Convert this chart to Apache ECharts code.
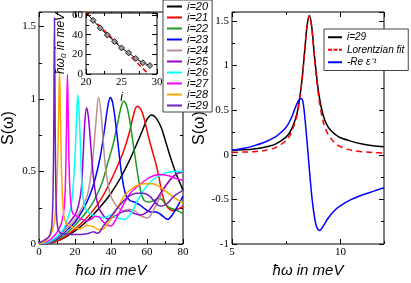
<!DOCTYPE html>
<html><head><meta charset="utf-8">
<script src="https://cdn.jsdelivr.net/npm/echarts@6/dist/echarts.min.js"></script>
<style>html,body{margin:0;padding:0;background:#fff}#c{width:411px;height:283px}</style>
</head><body><div id="c"></div>
<script>
// ---------- data: left panel S(omega) for i=20..29 ----------
const names = ['i=20','i=21','i=22','i=23','i=24','i=25','i=26','i=27','i=28','i=29'];
const x20 = [0,5,10,15,20,25,30,35,40,45,50,55,58,60,62.5,65,68,70.5,73,76,78,80];
const y20 = [0,0.003,0.02,0.05,0.09,0.14,0.2,0.27,0.35,0.45,0.57,0.71,0.8,0.86,0.89,0.87,0.8,0.7,0.6,0.49,0.43,0.37];
const x21 = [0,5,10,15,20,25,30,35,40,44,47,50,52.5,54.5,56.5,58.5,61,63,65,66.5,68,69.5,71,73,75,77,80];
const y21 = [0,0.004,0.02,0.055,0.105,0.16,0.23,0.32,0.44,0.55,0.64,0.76,0.89,0.95,0.93,0.86,0.73,0.64,0.55,0.47,0.37,0.3,0.26,0.235,0.23,0.24,0.26];
const x22 = [0,5,10,15,20,25,30,35,38,41,43.5,45.5,47,48.5,50,52,54,55.5,57,58.5,61,64,66,68,70,72.5,76,80];
const y22 = [0,0.005,0.03,0.07,0.13,0.2,0.285,0.42,0.55,0.68,0.82,0.94,0.985,0.96,0.88,0.72,0.55,0.43,0.34,0.3,0.29,0.3,0.315,0.31,0.28,0.25,0.235,0.21];
const x23 = [0,5,10,15,20,25,28,31,34,36.5,38,39.6,41,42.5,44,45.5,47,48.5,50.5,53,56,59,62,65,68,71.5,74,77,80];
const y23 = [0,0.006,0.035,0.09,0.15,0.25,0.33,0.44,0.6,0.8,0.93,1.01,0.97,0.84,0.68,0.52,0.4,0.33,0.3,0.29,0.27,0.24,0.22,0.22,0.2,0.17,0.2,0.26,0.33];
const x24 = [0,5,10,15,20,23,26.7,28.5,30,31.5,33.1,34.5,35.6,37,38.5,40,42,44,47,50,53,56,58.5,60.5,63,66,69,72,75,78,80];
const y24 = [0,0.008,0.04,0.1,0.17,0.23,0.33,0.45,0.6,0.82,1.01,0.9,0.72,0.52,0.4,0.33,0.28,0.25,0.23,0.24,0.23,0.2,0.185,0.18,0.22,0.29,0.37,0.43,0.47,0.49,0.49];
const x25 = [0,5,10,15,20,22,23.5,24.5,25.5,26.5,27.5,28.5,29.5,30.5,31.5,33,35,38,42,46,50,53,56,60,64,68,72,76,80];
const y25 = [0.002,0.01,0.045,0.12,0.2,0.27,0.38,0.6,0.85,0.94,0.87,0.72,0.56,0.43,0.34,0.26,0.21,0.175,0.19,0.22,0.23,0.21,0.2,0.22,0.28,0.36,0.43,0.48,0.5];
const x26 = [0,5,10,14,16,17.8,19,20,20.8,21.6,22.3,23,23.7,24.5,26,28.4,32,36,40,44,47.5,51,54.4,58,63,68.5,74,80];
const y26 = [0.002,0.012,0.05,0.11,0.18,0.26,0.4,0.6,0.85,1.03,0.9,0.68,0.45,0.32,0.24,0.21,0.19,0.18,0.2,0.18,0.17,0.21,0.29,0.37,0.44,0.48,0.5,0.5];
const x27 = [0,5,8,10,12,13.5,14.5,15.2,15.8,16.4,17,17.8,18.7,20,21.3,23,25,27,29,31,33,35,37.3,40,42,44,46.4,50.8,56,61.5,66.8,72,76.6,80];
const y27 = [0.003,0.02,0.05,0.08,0.13,0.2,0.35,0.75,1.17,0.75,0.42,0.27,0.21,0.2,0.19,0.175,0.165,0.16,0.17,0.19,0.19,0.16,0.135,0.125,0.155,0.2,0.26,0.35,0.41,0.46,0.48,0.47,0.45,0.44];
const x28 = [0,3,5,7,8.5,9.5,10.3,10.9,11.4,11.9,12.4,13.2,14.2,15.5,17,19.6,23,26.7,30.2,33,35,38.4,42.8,47.3,52.6,58,63,68.6,74,80];
const y28 = [0.004,0.015,0.04,0.08,0.15,0.28,0.55,0.9,1.19,0.9,0.55,0.28,0.17,0.14,0.13,0.11,0.105,0.13,0.12,0.1,0.1,0.145,0.23,0.33,0.39,0.415,0.415,0.38,0.33,0.28];
const x29 = [0,2,4,5.5,6.5,7.2,7.8,8.2,8.6,9.0,9.4,9.9,10.7,12,13.3,17.8,23,26.7,29,30.5,32,33.5,35,37.3,40,43.7,49,54.4,58,61.5,65,67.7,71.3,75,80];
const y29 = [0.01,0.02,0.035,0.05,0.08,0.14,0.35,0.8,1.56,0.8,0.35,0.17,0.1,0.075,0.07,0.065,0.065,0.07,0.08,0.085,0.075,0.08,0.11,0.15,0.19,0.25,0.32,0.35,0.35,0.33,0.28,0.26,0.28,0.33,0.37];

// ---------- inset: plasmon energy vs i ----------
const insetI = [20,21,22,23,24,25,26,27,28,29];
const insetW = [62.4,54.5,46.8,39.6,33.1,26.5,21.5,15.8,11.4,8.6];
const fitI = [20,28.8];
const fitW = [62.5,0];

// ---------- right panel ----------
const rightNames = ['i=29 ','Lorentzian fit','-Re ε⁻¹'];
const xBlack = [5,5.5,6,6.5,7,7.5,7.75,8,8.2,8.35,8.45,8.56,8.67,8.8,9,9.2,9.4,9.6,9.8,10,10.5,11,11.5,12];
const yBlack = [0.05,0.055,0.065,0.085,0.12,0.2,0.29,0.47,0.79,1.17,1.43,1.56,1.44,1.1,0.68,0.44,0.32,0.26,0.22,0.19,0.15,0.12,0.1,0.09];
const xFit = [5,5.5,6,6.5,7,7.5,7.75,8,8.2,8.35,8.45,8.56,8.67,8.8,9,9.2,9.4,9.6,9.8,10,10.5,11,11.5,12];
const yFit = [0.028,0.03,0.035,0.048,0.08,0.16,0.26,0.45,0.78,1.17,1.43,1.56,1.43,1.08,0.63,0.37,0.24,0.17,0.12,0.09,0.05,0.035,0.025,0.02];
const xBlue = [5,5.5,6,6.5,7,7.25,7.5,7.75,7.9,8.05,8.15,8.25,8.32,8.4,8.5,8.6,8.7,8.8,8.9,9.04,9.2,9.4,9.7,10,10.5,11,11.5,12];
const yBlue = [0.05,0.07,0.1,0.14,0.2,0.25,0.31,0.42,0.52,0.6,0.63,0.61,0.5,0.3,0.02,-0.27,-0.52,-0.7,-0.81,-0.85,-0.8,-0.72,-0.63,-0.57,-0.5,-0.45,-0.41,-0.37];

// ---------- build ----------
const leftX = [x20,x21,x22,x23,x24,x25,x26,x27,x28,x29];
const leftY = [y20,y21,y22,y23,y24,y25,y26,y27,y28,y29];
const colors = ['#000000','#ff0000','#1f9a1f','#0000ff','#bc8f8f','#9400d3','#00ffff','#ff00ff','#ffa500','#7222bc'];
const zip = (a,b) => a.map((v,k)=>[v,b[k]]);

const serif = 'Liberation Serif';
const sans = 'Liberation Sans';
const tickLbl = (extra) => Object.assign({fontFamily: serif, fontSize: 11, color: '#000', margin: 3}, extra||{});

function mkAxes(dim, gi, min, max, major, minor, label, name, z) {
  const side = dim === 'x' ? ['bottom','top'] : ['left','right'];
  const base = {type:'value', gridIndex: gi, min: min, max: max, splitLine:{show:false}, axisLine:{show:false, onZero:false}, z: z||0, silent:true};
  const t = (len) => ({inside:true, length:len, lineStyle:{color:'#000', width:1}});
  const main = Object.assign({}, base, {position: side[0], interval: major, axisTick: t(5), axisLabel: label}, name||{});
  return [
    main,
    Object.assign({}, base, {position: side[0], interval: minor, axisTick: t(3), axisLabel:{show:false}}),
    Object.assign({}, base, {position: side[1], interval: major, axisTick: t(5), axisLabel:{show:false}}),
    Object.assign({}, base, {position: side[1], interval: minor, axisTick: t(3), axisLabel:{show:false}})
  ];
}

const nameStyle = {fontFamily: sans, fontSize: 15, fontStyle: 'italic', color: '#000'};
const yNameStyle = {fontFamily: sans, fontSize: 16, color: '#000'};

const xAxes = [].concat(
  mkAxes('x', 0, 0, 80, 20, 10, tickLbl(), {name:'ħω in meV', nameLocation:'middle', nameGap: 19, nameTextStyle: nameStyle}),
  mkAxes('x', 1, 5, 12, 5, 2.5, tickLbl({showMaxLabel:false}), {name:'ħω in meV', nameLocation:'middle', nameGap: 19, nameTextStyle: nameStyle}),
  mkAxes('x', 2, 20, 30, 5, 2.5, tickLbl(), {name:'i', nameLocation:'middle', nameGap: 18, nameTextStyle:{fontFamily: sans, fontSize: 12, fontStyle:'italic', color:'#000'}}, 4)
);
const yAxes = [].concat(
  mkAxes('y', 0, 0, 1.6, 0.5, 0.25, tickLbl({showMaxLabel:false}), {name:'S(ω)', nameLocation:'middle', nameGap: 22, nameTextStyle: yNameStyle}),
  mkAxes('y', 1, -1, 1.6, 0.5, 0.25, tickLbl({showMaxLabel:false}), {name:'S(ω)', nameLocation:'middle', nameGap: 21, nameTextStyle: yNameStyle}),
  mkAxes('y', 2, 0, 62, 20, 10, tickLbl({showMaxLabel:false}), {name:'{a|ħω}{s|0}{a| in meV}', nameLocation:'middle', nameGap: 17,
    nameTextStyle:{rich:{a:{fontFamily: sans, fontSize: 12, fontStyle:'italic', color:'#000', lineHeight: 14}, s:{fontFamily: sans, fontSize: 8, fontStyle:'italic', color:'#000', verticalAlign:'bottom', lineHeight: 14}}}}, 4)
);

const series = [];
for (let k = 0; k < 10; k++) {
  series.push({type:'line', name: names[k], xAxisIndex: 0, yAxisIndex: 0, data: zip(leftX[k], leftY[k]),
    symbol:'none', smooth: 0.35, lineStyle:{color: colors[k], width: 1.5}, itemStyle:{color: colors[k]}, z: 2, animation:false});
}
series.push({type:'line', name:'fit', xAxisIndex: 8, yAxisIndex: 8, data: zip(fitI, fitW), symbol:'none',
  lineStyle:{color:'#ff0000', width:1.5, type:[5,3]}, z: 5, animation:false});
series.push({type:'line', name:'omega0', xAxisIndex: 8, yAxisIndex: 8, data: zip(insetI, insetW), symbol:'diamond', symbolSize: 6,
  lineStyle:{color:'#000', width:1}, itemStyle:{color:'#999', borderColor:'#000', borderWidth:0.8}, z: 6, animation:false});
const rX = [xBlack, xFit, xBlue], rY = [yBlack, yFit, yBlue];
const rC = ['#000000','#ff0000','#0000ff'];
for (let k = 0; k < 3; k++) {
  series.push({type:'line', name: rightNames[k], xAxisIndex: 4, yAxisIndex: 4, data: zip(rX[k], rY[k]), symbol:'none', smooth: 0.3,
    lineStyle:{color: rC[k], width: 1.5, type: k === 1 ? [6,4] : 'solid'}, itemStyle:{color: rC[k]}, z: 2, animation:false});
}

const dashIcon = 'path://M0,0H4V2H0Z M5.5,0H9.5V2H5.5Z M11,0H14V2H11Z';
const chart = echarts.init(document.getElementById('c'), null, {renderer:'canvas'});
chart.setOption({
  animation: false,
  backgroundColor: '#fff',
  grid: [
    {left: 33, top: 12, width: 150, height: 245, show: true, borderColor:'#000', borderWidth: 1, backgroundColor:'transparent'},
    {left: 232, top: 12, width: 152, height: 245, show: true, borderColor:'#000', borderWidth: 1, backgroundColor:'transparent'},
    {left: 86, top: 13, width: 71, height: 61, show: true, borderColor:'#000', borderWidth: 1, backgroundColor:'#fff', z: 3}
  ],
  xAxis: xAxes,
  yAxis: yAxes,
  legend: [
    {data: names.map(n => ({name: n, icon: 'rect'})), orient:'vertical', left: 163, top: 0, itemWidth: 15, itemHeight: 2, itemGap: 0, padding:[1,4,1,4],
      backgroundColor:'#fff', borderColor:'#444', borderWidth: 1, selectedMode: false,
      textStyle:{fontFamily: sans, fontStyle:'italic', fontSize: 11, color:'#000', lineHeight: 11}},
    {data: [{name: rightNames[0], icon:'rect'}, {name: rightNames[1], icon: dashIcon, itemStyle:{color:'#ff0000'}}, {name: rightNames[2], icon:'rect'}],
      orient:'vertical', left: 324, top: 29, itemWidth: 14, itemHeight: 2, itemGap: 0, padding:[2,4,2,4],
      backgroundColor:'#fff', borderColor:'#444', borderWidth: 1, selectedMode: false,
      textStyle:{fontFamily: sans, fontStyle:'italic', fontSize: 10, color:'#000', lineHeight: 12.5}}
  ],
  series: series
});
</script>
</body></html>
